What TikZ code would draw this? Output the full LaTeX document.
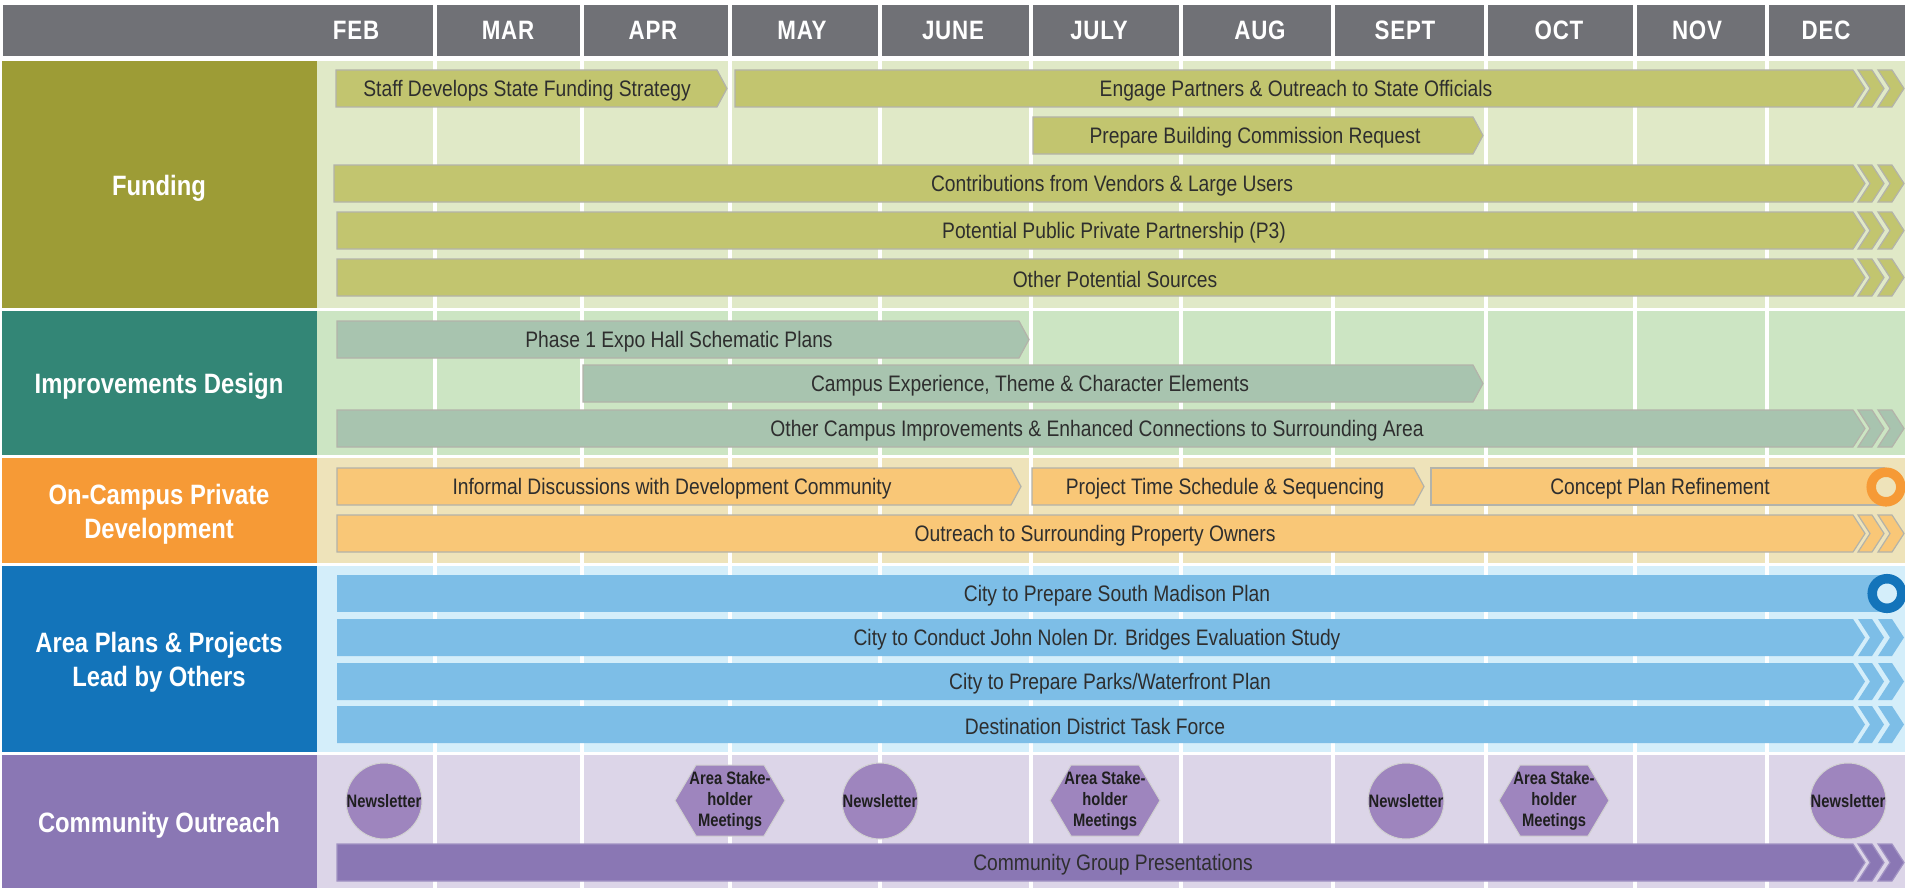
\documentclass[tikz,border=0pt]{standalone}
\usepackage{fontspec}
\setmainfont{Liberation Sans}
\newfontfamily\barfont{Liberation Sans}[FakeStretch=0.86]
\newfontfamily\catfont{Liberation Sans}[FakeStretch=0.85]
\newfontfamily\monfont{Liberation Sans}[FakeStretch=0.84,LetterSpace=3]
\newfontfamily\smfont{Liberation Sans}[FakeStretch=0.82]
\definecolor{hdr}{HTML}{707176}
\definecolor{fundD}{HTML}{9D9C36}
\definecolor{fundL}{HTML}{E0E9C7}
\definecolor{fundB}{HTML}{C2C56F}
\definecolor{impD}{HTML}{338676}
\definecolor{impL}{HTML}{CCE5C3}
\definecolor{impB}{HTML}{A8C4AF}
\definecolor{ocD}{HTML}{F69A36}
\definecolor{ocL}{HTML}{EEE3BA}
\definecolor{ocB}{HTML}{F9C777}
\definecolor{apD}{HTML}{1374BA}
\definecolor{apL}{HTML}{D4EEFA}
\definecolor{apB}{HTML}{7DBEE7}
\definecolor{coD}{HTML}{8A77B4}
\definecolor{coL}{HTML}{DCD5E8}
\definecolor{coB}{HTML}{8A77B4}
\definecolor{coC}{HTML}{9E85BE}
\definecolor{txt}{HTML}{2E2E2E}
\definecolor{outl}{HTML}{B3B3AA}
\newcommand{\tipbar}[4]{\path[#1] (#2,#4) -- ({#3-10},#4) -- (#3,{#4+18.5}) -- ({#3-10},{#4+37}) -- (#2,{#4+37}) -- cycle;}
\newcommand{\longbar}[3]{%
  \path[#1] (#2,#3) -- (1853,#3) -- (1865,{#3+18.5}) -- (1853,{#3+37}) -- (#2,{#3+37}) -- cycle;
  \path[#1] (1858,#3) -- (1872,#3) -- (1884,{#3+18.5}) -- (1872,{#3+37}) -- (1858,{#3+37}) -- (1870,{#3+18.5}) -- cycle;
  \path[#1] (1878,#3) -- (1892,#3) -- (1904,{#3+18.5}) -- (1892,{#3+37}) -- (1878,{#3+37}) -- (1890,{#3+18.5}) -- cycle;}
\newcommand{\hexa}[2]{\path[hexfill] ({#1-55},#2) -- ({#1-34},{#2-35.5}) -- ({#1+34},{#2-35.5}) -- ({#1+55},#2) -- ({#1+34},{#2+35.5}) -- ({#1-34},{#2+35.5}) -- cycle;}
\tikzset{
  bartext/.style={font=\barfont\fontsize{11.2}{13}\selectfont, text=txt, inner sep=0pt, yshift=-1.1pt},
  cattext/.style={font=\catfont\bfseries\fontsize{14}{17}\selectfont, text=white, align=center, inner sep=0pt, yshift=-1.8pt},
  montext/.style={font=\monfont\bfseries\fontsize{13.3}{15}\selectfont, text=white, inner sep=0pt},
  evtext/.style={font=\smfont\bfseries\fontsize{9}{10.5}\selectfont, text=black!88, align=center, inner sep=0pt},
  barline/.style={draw=outl, line width=0.6pt},
  fbar/.style={fill=fundB, barline},
  ibar/.style={fill=impB, barline},
  obar/.style={fill=ocB, barline},
  abar/.style={fill=apB},
  cbar/.style={fill=coB, draw=coB!80!white, line width=0.6pt},
  hexfill/.style={fill=coC, draw=black!18, line width=0.5pt},
  newsl/.style={circle, fill=coC, draw=black!18, line width=0.5pt, minimum size=38pt, inner sep=0pt},
}
\begin{document}
\begin{tikzpicture}[x=0.5pt,y=-0.5pt]
\useasboundingbox (0,0) rectangle (1905,888);
\fill[white] (0,0) rectangle (1905,888);
% header
\fill[hdr] (3,5) rectangle (1905,56);
% sections
\fill[fundD] (2,61) rectangle (317,308);  \fill[fundL] (317,61) rectangle (1905,308);
\fill[impD] (2,311) rectangle (317,455);  \fill[impL] (317,311) rectangle (1905,455);
\fill[ocD] (2,458) rectangle (317,563);   \fill[ocL] (317,458) rectangle (1905,563);
\fill[apD] (2,566) rectangle (317,752);   \fill[apL] (317,566) rectangle (1905,752);
\fill[coD] (2,755) rectangle (317,888);   \fill[coL] (317,755) rectangle (1905,888);
% month separators
\foreach \x in {435,581.5,730,880,1031,1181,1333,1485.5,1635,1767}
  \fill[white] ({\x-2},5) rectangle ({\x+2},888);
% month labels
\node[montext] (feb) at (356,30.5) {FEB};
\node[montext] (mar) at (508,30.5) {MAR};
\node[montext] (apr) at (653,30.5) {APR};
\node[montext] (may) at (802,30.5) {MAY};
\node[montext] (jun) at (953,30.5) {JUNE};
\node[montext] (jul) at (1099,30.5) {JULY};
\node[montext] (aug) at (1260,30.5) {AUG};
\node[montext] (sep) at (1405,30.5) {SEPT};
\node[montext] (oct) at (1559,30.5) {OCT};
\node[montext] (nov) at (1697,30.5) {NOV};
\node[montext] (dec) at (1826,30.5) {DEC};
% category labels
\node[cattext] (catf) at (159,185) {Funding};
\node[cattext] (cati) at (159,383) {Improvements Design};
\node[cattext] (cato) at (159,511) {On-Campus Private\\Development};
\node[cattext] (cata) at (159,659) {Area Plans \& Projects\\Lead by Others};
\node[cattext] (catc) at (159,822) {Community Outreach};
% funding bars
\tipbar{fbar}{336}{727}{70}
\longbar{fbar}{735}{70}
\tipbar{fbar}{1033}{1483}{117}
\longbar{fbar}{334}{165}
\longbar{fbar}{337}{212}
\longbar{fbar}{337}{259}
\node[bartext] (f1) at (527,88.5) {Staff Develops State Funding Strategy};
\node[bartext] (f2) at (1296,88.5) {Engage Partners \& Outreach to State Officials};
\node[bartext] (f3) at (1255,135.5) {Prepare Building Commission Request};
\node[bartext] (f4) at (1112,183.5) {Contributions from Vendors \& Large Users};
\node[bartext] (f5) at (1114,230.5) {Potential Public Private Partnership (P3)};
\node[bartext] (f6) at (1115,277.5) {Other Potential Sources};
% improvements bars
\tipbar{ibar}{337}{1029}{321}
\tipbar{ibar}{583}{1483}{365}
\longbar{ibar}{337}{410}
\node[bartext] (i1) at (679,339.5) {Phase 1 Expo Hall Schematic Plans};
\node[bartext] (i2) at (1030,383.5) {Campus Experience, Theme \& Character Elements};
\node[bartext] (i3) at (1097,428.5) {Other Campus Improvements \& Enhanced Connections to Surrounding Area};
% on-campus bars
\tipbar{obar}{337}{1021}{468}
\tipbar{obar}{1032}{1424}{468}
\path[obar] (1431,468) rectangle (1884,505);
\draw[ocD, line width=4.75pt, fill=ocL] (1886,487) circle (7.4pt);
\longbar{obar}{337}{515}
\node[bartext] (o1) at (672,486.5) {Informal Discussions with Development Community};
\node[bartext] (o2) at (1225,486.5) {Project Time Schedule \& Sequencing};
\node[bartext] (o3) at (1660,486.5) {Concept Plan Refinement};
\node[bartext] (o4) at (1095,533.5) {Outreach to Surrounding Property Owners};
% area plans bars
\path[abar] (337,575) rectangle (1884,612);
\draw[apD, line width=4.75pt, fill=apL] (1887,593.5) circle (7.4pt);
\longbar{abar}{337}{619}
\longbar{abar}{337}{663}
\longbar{abar}{337}{706}
\node[bartext] (a1) at (1117,593.5) {City to Prepare South Madison Plan};
\node[bartext] (a2) at (1097,637.5) {City to Conduct John Nolen Dr. Bridges Evaluation Study};
\node[bartext] (a3) at (1110,681.5) {City to Prepare Parks/Waterfront Plan};
\node[bartext] (a4) at (1095,724.5) {Destination District Task Force};
% community outreach
\longbar{cbar}{337}{844}
\node[bartext] (c1) at (1113,862.5) {Community Group Presentations};
\node[newsl] (n1) at (384,801) {};
\node[newsl] (n2) at (880,801) {};
\node[newsl] (n3) at (1406,801) {};
\node[newsl] (n4) at (1848,801) {};
\node[evtext] (n1t) at (n1) {Newsletter};
\node[evtext] (n2t) at (n2) {Newsletter};
\node[evtext] (n3t) at (n3) {Newsletter};
\node[evtext] (n4t) at (n4) {Newsletter};
\hexa{730}{800.5}
\hexa{1105}{800.5}
\hexa{1554}{800.5}
\node[evtext] (h1) at (730,800.5) {Area Stake-\\holder\\Meetings};
\node[evtext] (h2) at (1105,800.5) {Area Stake-\\holder\\Meetings};
\node[evtext] (h3) at (1554,800.5) {Area Stake-\\holder\\Meetings};
\end{tikzpicture}
\end{document}
